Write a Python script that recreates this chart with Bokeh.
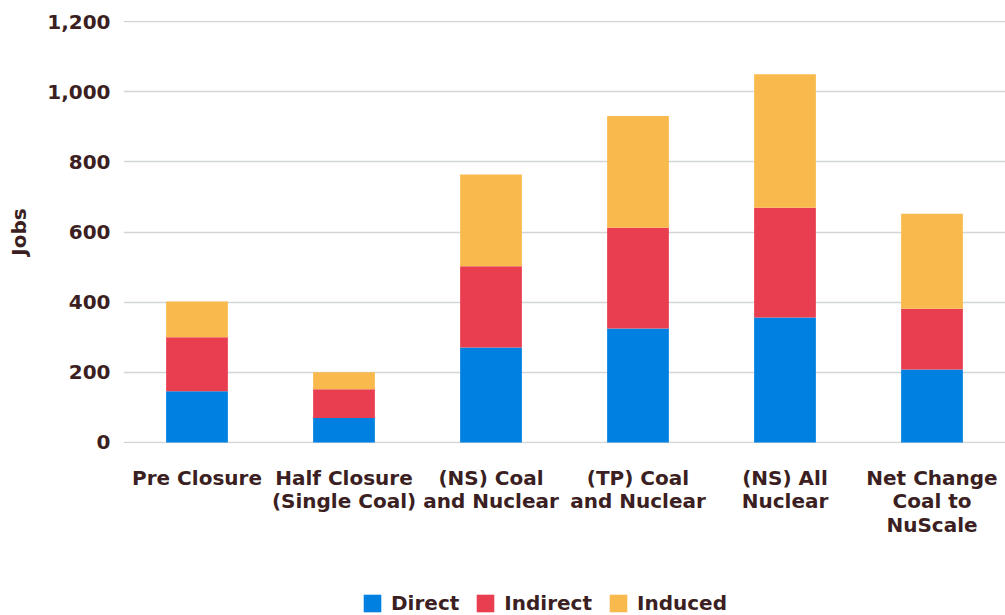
from bokeh.plotting import figure
from bokeh.layouts import column
from bokeh.models import ColumnDataSource, Legend, LegendItem, NumeralTickFormatter, FixedTicker, Range1d
from bokeh.embed import file_html
from bokeh.resources import INLINE

categories = ["Pre Closure", "Half Closure (Single Coal)", "(NS) Coal and Nuclear",
              "(TP) Coal and Nuclear", "(NS) All Nuclear", "Net Change Coal to NuScale"]
tick_labels = ["Pre Closure", "Half Closure\n(Single Coal)", "(NS) Coal\nand Nuclear",
               "(TP) Coal\nand Nuclear", "(NS) All\nNuclear", "Net Change\nCoal to\nNuScale"]
series = ["Direct", "Indirect", "Induced"]
direct = [146, 70, 271, 325, 356, 208]
indirect = [154, 82, 231, 287, 313, 173]
induced = [102, 48, 262, 319, 381, 271]
y_ticks = [0, 200, 400, 600, 800, 1000, 1200]

colors = ["#0080e0", "#e93e50", "#f9ba4d"]
txt = "#3b1f22"
font = "DejaVu Sans"
fsize = "20px"

src = ColumnDataSource(dict(cat=categories, Direct=direct, Indirect=indirect, Induced=induced))

W = 1005
PAD_B = 14
TOP_H = 443 + PAD_B
BOT_H = 615 - TOP_H
LEFT = 123

p = figure(x_range=categories, y_range=Range1d(-3, 1203), width=W, height=TOP_H,
           output_backend="svg", toolbar_location=None,
           min_border_left=LEFT, min_border_right=0, min_border_top=20, min_border_bottom=PAD_B)
p.outline_line_color = None
p.vbar_stack(series, x="cat", width=0.42, color=colors, source=src, line_width=0)

p.xaxis.visible = False
p.xgrid.grid_line_color = None
p.ygrid.grid_line_color = "#d3d6d8"
p.ygrid.grid_line_width = 1.5
p.yaxis.ticker = FixedTicker(ticks=y_ticks)
p.yaxis.formatter = NumeralTickFormatter(format="0,0")
ax = p.yaxis[0]
ax.axis_line_color = None
ax.major_tick_line_color = None
ax.minor_tick_line_color = None
ax.major_label_text_font = font
ax.major_label_text_font_style = "bold"
ax.major_label_text_font_size = fsize
ax.major_label_text_color = txt
ax.major_label_standoff = 7
ax.axis_label = "Jobs"
ax.axis_label_text_font = font
ax.axis_label_text_font_style = "bold"
ax.axis_label_text_font_size = fsize
ax.axis_label_text_color = txt
ax.axis_label_standoff = 13

# bottom strip: category labels and legend (y in pixels from the top of the strip)
q = figure(x_range=p.x_range, y_range=Range1d(BOT_H, 0), width=W, height=BOT_H,
           output_backend="svg", toolbar_location=None,
           min_border_left=LEFT, min_border_right=0, min_border_top=0, min_border_bottom=0)
q.outline_line_color = None
q.axis.visible = False
q.grid.visible = False
lab_src = ColumnDataSource(dict(cat=categories, text=tick_labels,
                                y=[22 - PAD_B] * len(categories)))
q.text(x="cat", y="y", text="text", source=lab_src, text_align="center",
       text_baseline="top", text_font={"value": font}, text_font_style="bold",
       text_font_size=fsize, text_color=txt, text_line_height=0.99)

# legend swatches: zero-width bars carrying the series colours
swatches = [q.vbar(x=[categories[0]], bottom=[-200], top=[-190], width=0,
                   fill_color=c, line_color=None) for c in colors]
legend = Legend(items=[LegendItem(label=s, renderers=[r]) for s, r in zip(series, swatches)],
                orientation="horizontal", location=(238, 0),
                label_text_font=font, label_text_font_style="bold", label_text_font_size=fsize,
                label_text_color=txt, glyph_width=22, glyph_height=22, label_standoff=8,
                spacing=15, border_line_color=None, background_fill_alpha=0, margin=0, padding=0)
legend.label_height = 22
q.add_layout(legend, "center")

layout = column(p, q, spacing=0)
open("out.html", "w").write(file_html(layout, INLINE))
